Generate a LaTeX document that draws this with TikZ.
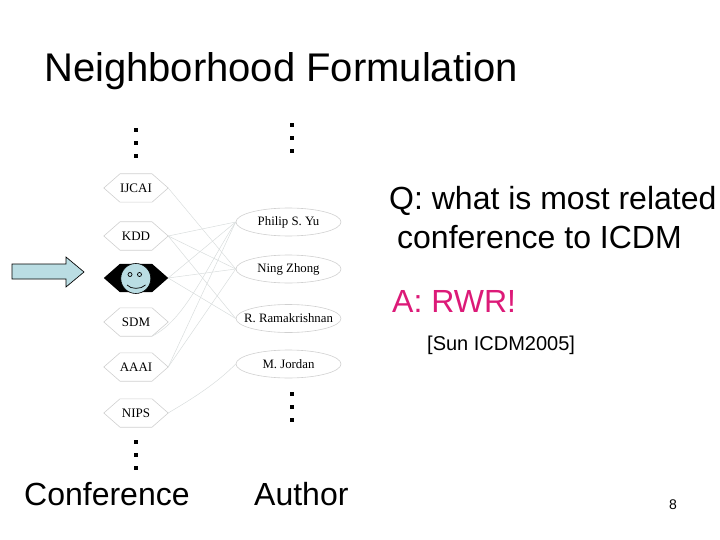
\documentclass[tikz,border=0pt]{standalone}
\usepackage{fontspec}
\setmainfont{Liberation Sans}
\newfontfamily\serifgraph{Liberation Serif}
\usetikzlibrary{shapes.geometric}
\definecolor{paleblue}{HTML}{BADDE3}
\definecolor{hotpink}{HTML}{DC1A78}
\definecolor{lineg}{HTML}{D9DDDD}
\definecolor{shapeg}{HTML}{D0D0D0}
\tikzset{
  hexbox/.style={minimum width=64pt,minimum height=28pt,inner sep=0pt,font=\serifgraph\fontsize{13}{14}\selectfont},
  hexline/.style={draw=shapeg,line width=0.6pt},
  person/.style={ellipse,draw=shapeg,line width=0.6pt,minimum width=105pt,minimum height=28pt,inner sep=0pt,font=\serifgraph\fontsize{12.8}{14}\selectfont},
  edgeline/.style={draw=lineg,line width=0.5pt},
  dotmark/.style={fill=black,minimum size=3.6pt,inner sep=0pt},
  eyemark/.style={circle,draw=black,fill=paleblue,line width=0.7pt,minimum size=4pt,inner sep=0pt},
  label/.style={anchor=base west,inner sep=0pt},
  bigtxt/.style={label,font=\fontsize{32}{34}\selectfont}
}
\begin{document}
\begin{tikzpicture}[x=1pt,y=-1pt]
\useasboundingbox (0,0) rectangle (720,540);
% conference nodes
\node[hexbox] (ijcai) at (136,188) {IJCAI};
\node[hexbox] (kdd) at (136,236) {KDD};
\node[hexbox] (icdm) at (136,278) {};
\node[hexbox] (sdm) at (136,322) {SDM};
\node[hexbox] (aaai) at (136,367) {AAAI};
\node[hexbox] (nips) at (136,413) {NIPS};
% author nodes
\node[person] (yu) at (288.5,222) {\makebox[0pt]{Philip S. Yu}};
\node[person] (zhong) at (288.5,269) {\makebox[0pt]{Ning Zhong}};
\node[person] (rama) at (288.5,318.5) {\makebox[0pt]{R. Ramakrishnan}};
\node[person] (jordan) at (288.5,364) {\makebox[0pt]{M. Jordan}};
% hexagon outlines
\foreach \n in {ijcai,kdd,sdm,aaai,nips}
  \draw[hexline] (\n.west) -- ([xshift=-16pt]\n.north) -- ([xshift=16pt]\n.north) -- (\n.east) -- ([xshift=16pt]\n.south) -- ([xshift=-16pt]\n.south) -- cycle;
\fill[black] (icdm.west) -- ([xshift=-16pt]icdm.north) -- ([xshift=16pt]icdm.north) -- (icdm.east) -- ([xshift=16pt]icdm.south) -- ([xshift=-16pt]icdm.south) -- cycle;
% edges
\draw[edgeline] (ijcai.east) -- (zhong.west);
\draw[edgeline] (kdd.east) -- (yu.west);
\draw[edgeline] (kdd.east) -- (zhong.west);
\draw[edgeline] (kdd.east) -- (rama.west);
\draw[edgeline] (icdm.east) -- (yu.west);
\draw[edgeline] (icdm.east) -- (zhong.west);
\draw[edgeline] (icdm.east) -- (rama.west);
\draw[edgeline] ([xshift=16pt]sdm.south) .. controls (185,320) and (205,270) .. (yu.west);
\draw[edgeline] (aaai.east) -- (yu.west);
\draw[edgeline] (aaai.east) -- (zhong.west);
\draw[edgeline] (nips.east) .. controls (190,400) and (215,385) .. (jordan.west);
% smiley
\node[circle,draw=black,fill=paleblue,line width=0.6pt,minimum size=30pt,inner sep=0pt] (face) at (135.8,278.5) {};
\node[eyemark] (eyel) at (130,274.5) {};
\node[eyemark] (eyer) at (139.5,274.5) {};
\draw[black,line width=0.7pt] (127,285) .. controls (131,289.5) and (141,289.5) .. (145.5,285);
% arrow
\draw[fill=paleblue,draw=black,line width=0.7pt] (12,264) -- (66,264) -- (66,257) -- (84,272) -- (66,287) -- (66,279) -- (12,279) -- cycle;
% dots
\foreach \x/\y in {136/130,136/143,136/156,292/125,292/138,292/151,292/394,292/407,292/420,136/442,136/455,136/468}
  \node[dotmark] (d\x-\y) at (\x,\y) {};
% text
\node[label,font=\fontsize{40}{42}\selectfont] (title) at (44,82) {Neighborhood Formulation};
\node[bigtxt] (q1) at (389,210) {Q: what is most related};
\node[bigtxt] (q2) at (397,248) {conference to ICDM};
\node[bigtxt,text=hotpink] (ans) at (392,312) {A: RWR!};
\node[label,font=\fontsize{20}{22}\selectfont] (cite) at (427,350.5) {[Sun ICDM2005]};
\node[bigtxt] (conf) at (24,505) {Conference};
\node[bigtxt] (auth) at (254,505) {Author};
\node[label,font=\fontsize{14}{16}\selectfont] (pg) at (669,509) {8};
\end{tikzpicture}
\end{document}
